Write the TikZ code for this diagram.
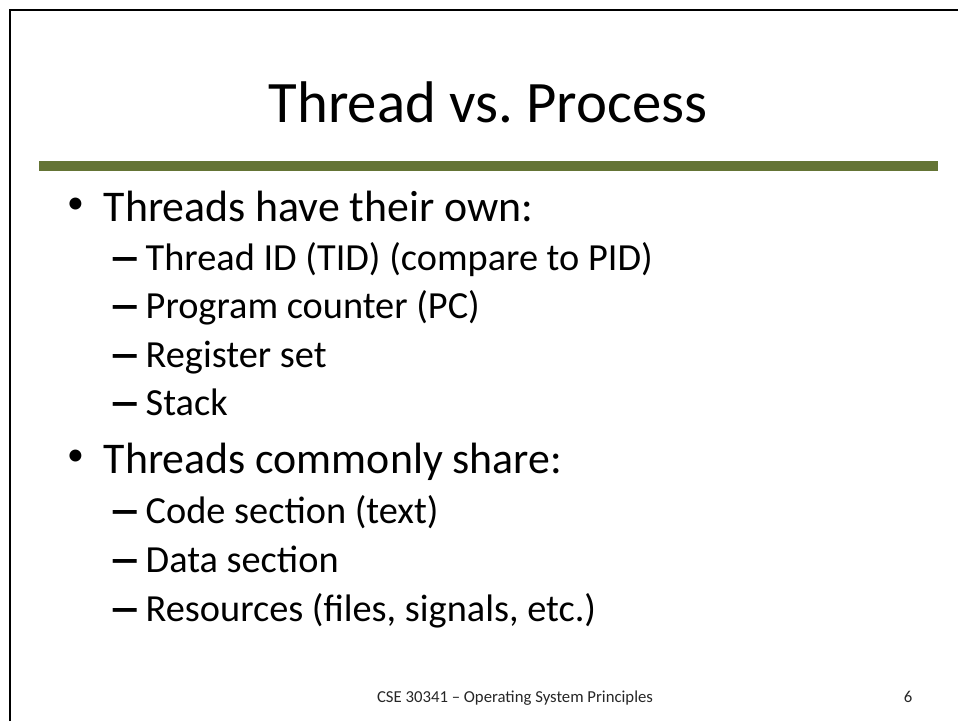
\documentclass[tikz,border=0pt]{standalone}
\usepackage{fontspec}
\setmainfont{Carlito}
\usetikzlibrary{positioning}

\definecolor{ruleGreen}{RGB}{100,116,53}

\tikzset{
  lvlone/.style={anchor=base west, inner sep=0pt, font=\fontsize{12.46}{15}\selectfont},
  lvltwo/.style={anchor=base west, inner sep=0pt, font=\fontsize{10.9}{13}\selectfont},
  dotmark/.style={anchor=base west, inner sep=0pt, font=\fontsize{9.6}{12}\selectfont, yshift=7.5*0.01cm},
  dashmark/.style={lvltwo, yshift=-6.8*0.01cm},
  footnote/.style={anchor=base, inner sep=0pt, font=\fontsize{4.76}{5}\selectfont, text=black!85}
}
\newcommand{\subdash}{\scalebox{1.75}[1.6]{–}}

\begin{document}
\begin{tikzpicture}[x=0.01cm, y=-0.01cm]
  \useasboundingbox (0,0) rectangle (958,721);
  % Slide frame
  \draw[line width=0.75pt] (10,721) -- (10,10) -- (958,10);
  % Title and green rule
  \node[anchor=base, inner sep=0pt, font=\fontsize{16.7}{20}\selectfont] (title) at (488,122) {Thread vs.\ Process};
  \fill[ruleGreen] (39,161) rectangle (938,171);
  % What a thread keeps for itself
  \node[dotmark] (bulletown) at (66.5,221) {•};
  \node[lvlone] (own) at (103,221) {Threads have their own:};
  \node[dashmark] (dtid) at (108,270) {\subdash};
  \node[lvltwo] (tid) at (145,270) {Thread ID (TID) (compare to PID)};
  \node[dashmark] (dpc) at (108,318) {\subdash};
  \node[lvltwo] (pc) at (145,318) {Program counter (PC)};
  \node[dashmark] (dreg) at (108,367) {\subdash};
  \node[lvltwo] (reg) at (145,367) {Register set};
  \node[dashmark] (dstack) at (108,415) {\subdash};
  \node[lvltwo] (stack) at (145,415) {Stack};
  % What the threads share
  \node[dotmark] (bulletshare) at (66.5,473) {•};
  \node[lvlone] (share) at (103,473) {Threads commonly share:};
  \node[dashmark] (dcode) at (108,523) {\subdash};
  \node[lvltwo] (code) at (145,523) {Code section (text)};
  \node[dashmark] (ddata) at (108,572) {\subdash};
  \node[lvltwo] (data) at (145,572) {Data section};
  \node[dashmark] (dres) at (108,621) {\subdash};
  \node[lvltwo] (res) at (145,621) {Resources (files, signals, etc.)};
  % Footer
  \node[footnote] (course) at (515,702) {CSE 30341 – Operating System Principles};
  \node[footnote] (page) at (908,702) {6};
\end{tikzpicture}
\end{document}
